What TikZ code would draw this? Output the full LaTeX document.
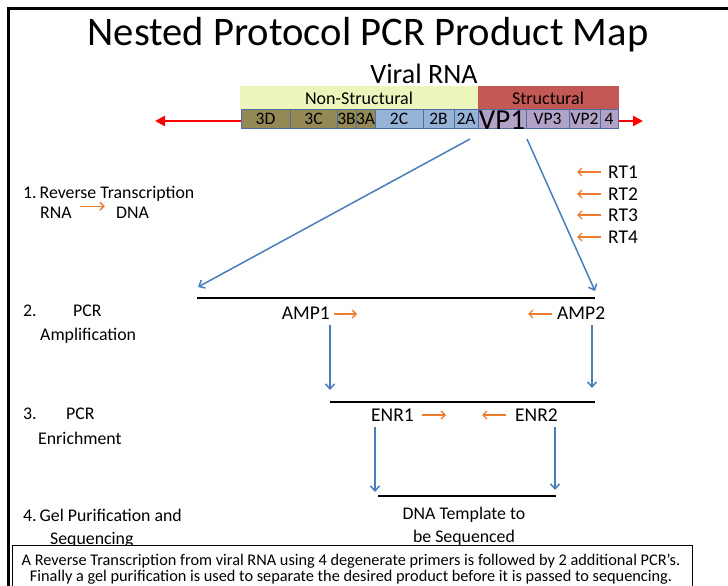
\documentclass[tikz,border=0pt]{standalone}
\usepackage{fontspec}
\setmainfont{Carlito}
\usetikzlibrary{arrows.meta}

\definecolor{nsband}{RGB}{235,245,188}
\definecolor{sband}{RGB}{196,88,84}
\definecolor{olive}{RGB}{148,137,84}
\definecolor{segblue}{RGB}{149,179,215}
\definecolor{segpurple}{RGB}{178,162,199}
\definecolor{segedge}{RGB}{79,110,160}
\definecolor{flowblue}{RGB}{74,126,187}
\definecolor{primerorange}{RGB}{237,125,49}

\tikzset{
  txt/.style={inner sep=0pt, font=\fontsize{17.8}{23}\selectfont},
  tag/.style={inner sep=0pt, font=\fontsize{19.5}{23}\selectfont},
  seglbl/.style={inner sep=0pt, font=\fontsize{17.5}{17.5}\selectfont},
  segbox/.style={draw=segedge, line width=0.8pt},
  flow/.style={draw=flowblue, line width=1.5pt, -{Straight Barb[length=5pt,width=9pt]}},
  primer/.style={draw=primerorange, line width=1.4pt, -{Straight Barb[length=4pt,width=8pt]}},
  product/.style={draw=black, line width=2pt},
}

\begin{document}
\begin{tikzpicture}[x=1pt, y=-1pt]
  % page size of the reference
  \clip (0,0) rectangle (728,586);
  \fill[white] (0,0) rectangle (728,586);

  % outer frame (only top and left edges are visible)
  \draw[line width=3pt] (8,600) -- (8,9) -- (740,9);

  % Title
  \node[inner sep=0pt, font=\fontsize{40.6}{40}\selectfont, anchor=base] (title) at (368,46) {Nested Protocol PCR Product Map};
  \node[inner sep=0pt, font=\fontsize{28}{28}\selectfont, anchor=base] (viral) at (424,83) {Viral RNA};

  % Genome bands
  \fill[nsband] (240,86) rectangle (478,109);
  \fill[sband] (478,86) rectangle (619,109);
  \node[seglbl, font=\fontsize{18}{18}\selectfont, anchor=base] (nonstruct) at (359,104) {Non-Structural};
  \node[seglbl, font=\fontsize{18}{18}\selectfont, anchor=base] (struct) at (548,104) {Structural};

  % red genome line
  \draw[red, line width=2.5pt, {Triangle[length=10pt,width=10pt]}-{Triangle[length=10pt,width=10pt]}] (155,121) -- (643,121);

  % Genome segments
  \foreach \xa/\xb/\lab/\col in {241/290/3D/olive, 290/337/3C/olive, 337/356/3B/olive, 356/375/3A/olive,
      375/423/2C/segblue, 423/454/2B/segblue, 454/478/2A/segblue,
      526/569/VP3/segpurple, 569/600/VP2/segpurple, 600/618/4/segpurple} {
    \draw[segbox, fill=\col] (\xa,109) rectangle (\xb,128);
    \node[seglbl, anchor=base] (seg\lab) at ({(\xa+\xb)/2},124.5) {\lab};
  }
  \draw[segbox, fill=segpurple] (478,109) rectangle (526,128);
  \node[inner sep=0pt, font=\fontsize{29}{29}\selectfont, anchor=base] (segVP1) at (502,129) {VP1};

  % Step 1: reverse transcription
  \node[txt, anchor=base west] (step1) at (23,198) {1.\,Reverse Transcription};
  \node[txt, anchor=base west] (rna) at (40,218) {RNA};
  \node[txt, anchor=base west] (dna) at (116,218) {DNA};
  \draw[primer] (rna.east) ++(8,-6) coordinate (rnaR) -- ++(25,0) coordinate (dnaL);

  % RT primers
  \foreach \i/\yy in {1/172, 2/194, 3/215, 4/237} {
    \node[tag, anchor=base west] (rt\i) at (608,{\yy+6}) {RT\i};
    \draw[primer] (601,\yy) coordinate (rtS\i) -- (577,\yy) coordinate (rtE\i);
  }

  % Step 2: amplification
  \coordinate (rtL) at (470,139);
  \coordinate (rtR) at (527,139);
  \coordinate (ampL) at (197,298);
  \coordinate (ampR) at (595,298);
  \coordinate (ampLtip) at (198,287);
  \coordinate (ampRtip) at (595,291);
  \draw[flow] (rtL) -- (ampLtip);
  \draw[flow] (rtR) -- (ampRtip);
  \draw[product] (ampL) -- (ampR);
  \node[txt, anchor=base west] (step2) at (23,316) {2.};
  \node[txt, anchor=base west] (pcr2) at (73,316) {PCR};
  \node[txt, anchor=base west] (ampl) at (40,340) {Amplification};
  \node[tag, anchor=base east] (amp1) at (330,319) {AMP1};
  \node[tag, anchor=base west] (amp2) at (557,319) {AMP2};
  \draw[primer] (334,314) coordinate (a1S) -- (357,314) coordinate (a1E);
  \draw[primer] (552,314) coordinate (a2S) -- (528,314) coordinate (a2E);

  % Step 3: enrichment
  \coordinate (enrL) at (330,402);
  \coordinate (enrR) at (595,402);
  \draw[flow] (330,325) coordinate (d1S) -- (330,390) coordinate (d1E);
  \draw[flow] (592,325) coordinate (d2S) -- (592,388) coordinate (d2E);
  \draw[product] (enrL) -- (enrR);
  \node[txt, anchor=base west] (step3) at (23,419) {3.};
  \node[txt, anchor=base west] (pcr3) at (66,419) {PCR};
  \node[txt, anchor=base west] (enrich) at (38,444) {Enrichment};
  \node[tag, anchor=base east] (enr1) at (414,421) {ENR1};
  \node[tag, anchor=base west] (enr2) at (515,421) {ENR2};
  \draw[primer] (422,415) coordinate (e1S) -- (446,415) coordinate (e1E);
  \draw[primer] (506,415) coordinate (e2S) -- (482,415) coordinate (e2E);

  % Step 4: gel purification
  \coordinate (tplL) at (378,496);
  \coordinate (tplR) at (556,496);
  \draw[flow] (375,427) coordinate (d3S) -- (375,492) coordinate (d3E);
  \draw[flow] (555,427) coordinate (d4S) -- (555,490) coordinate (d4E);
  \draw[product] (tplL) -- (tplR);
  \node[txt, align=center] (template) at (464,526) {DNA Template to\\be Sequenced};
  \node[txt, anchor=base west] (step4) at (23,521) {4.\,Gel Purification and};
  \node[txt, anchor=base west] (seq) at (50,544) {Sequencing};

  % Caption box
  \draw[line width=0.8pt, fill=white] (12,545) rectangle (692,600);
  \node[inner sep=0pt, font=\fontsize{16.3}{16}\selectfont, anchor=base] (cap1) at (351,565.5) {A Reverse Transcription from viral RNA using 4 degenerate primers is followed by 2 additional PCR’s.};
  \node[inner sep=0pt, font=\fontsize{16.3}{16}\selectfont, anchor=base] (cap2) at (351,581.5) {Finally a gel purification is used to separate the desired product before it is passed to sequencing.};
\end{tikzpicture}
\end{document}
